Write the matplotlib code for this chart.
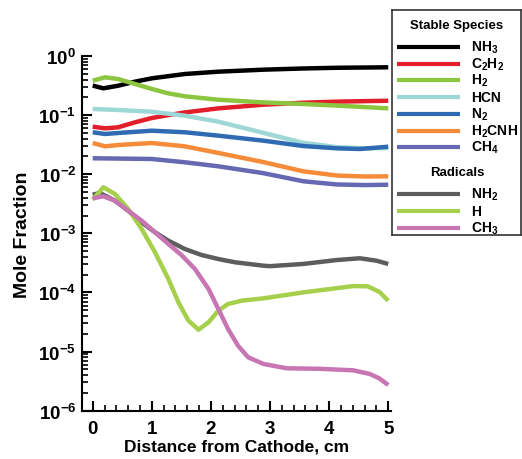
import matplotlib
matplotlib.use("Agg")
import matplotlib.pyplot as plt
from matplotlib.ticker import LogLocator, MultipleLocator, NullFormatter

plt.rcParams['font.family'] = ['Liberation Sans', 'DejaVu Sans']
plt.rcParams['font.weight'] = 'bold'
plt.rcParams['mathtext.default'] = 'regular'
plt.rcParams['axes.unicode_minus'] = False

# stable species
nh3_x = [0, 0.18, 0.43, 0.716, 1.0, 1.56, 2.125, 2.89, 3.56, 4.13, 5.0]
nh3_y = [0.316, 0.284, 0.314, 0.368, 0.419, 0.496, 0.543, 0.587, 0.615, 0.632, 0.644]

c2h2_x = [0, 0.21, 0.43, 0.716, 1.0, 1.28, 1.56, 2.125, 2.89, 3.56, 4.13, 5.0]
c2h2_y = [0.0637, 0.0597, 0.0621, 0.0755, 0.0893, 0.100, 0.111, 0.130, 0.150, 0.162, 0.169, 0.175]

h2_x = [0, 0.21, 0.43, 0.716, 1.0, 1.28, 1.56, 2.125, 2.89, 3.56, 4.13, 5.0]
h2_y = [0.382, 0.436, 0.408, 0.336, 0.277, 0.233, 0.208, 0.182, 0.164, 0.154, 0.145, 0.130]

hcn_x = [0, 0.43, 1.0, 1.56, 2.125, 2.89, 3.56, 4.13, 4.6, 5.0]
hcn_y = [0.127, 0.122, 0.114, 0.0977, 0.0774, 0.0500, 0.0340, 0.0287, 0.0274, 0.0277]

n2_x = [0, 0.21, 0.43, 1.0, 1.56, 2.125, 2.89, 3.56, 4.13, 4.52, 5.0]
n2_y = [0.0512, 0.0479, 0.0498, 0.0545, 0.0512, 0.0449, 0.0369, 0.0300, 0.0274, 0.0267, 0.0292]

h2cnh_x = [0, 0.21, 0.43, 1.0, 1.56, 2.125, 2.89, 3.56, 4.13, 4.6, 5.0]
h2cnh_y = [0.0337, 0.0296, 0.0312, 0.0337, 0.0296, 0.0229, 0.0160, 0.0112, 0.00950, 0.00915, 0.00920]

ch4_x = [0, 1.0, 1.56, 2.125, 2.89, 3.56, 4.13, 4.6, 5.0]
ch4_y = [0.0186, 0.0181, 0.0159, 0.0136, 0.0104, 0.0076, 0.00670, 0.00655, 0.00664]

# radicals
nh2_x = [0, 0.12, 0.377, 0.60, 0.83, 1.054, 1.28, 1.56, 1.84, 2.125, 2.41, 2.89,
         3.0, 3.56, 4.13, 4.52, 4.8, 5.0]
nh2_y = [0.0045, 0.00481, 0.00356, 0.00241, 0.00153, 0.00104, 0.00075, 0.000542, 0.00043,
         0.000367, 0.000323, 0.000283, 0.000278, 0.000303, 0.000353, 0.000378, 0.000344, 0.000303]

h_x = [0, 0.18, 0.377, 0.60, 0.83, 1.054, 1.28, 1.45, 1.62, 1.79, 1.96, 2.125, 2.29, 2.52,
       2.89, 3.56, 4.41, 4.65, 4.85, 5.0]
h_y = [0.00371, 0.0060, 0.00462, 0.00258, 0.00118, 0.000476, 0.000169, 6.79e-5, 3.33e-5,
       2.34e-5, 3.12e-5, 4.9e-5, 6.37e-5, 7.24e-5, 7.94e-5, 1.0e-4, 1.28e-4, 1.27e-4, 1.02e-4, 7.24e-5]

ch3_x = [0, 0.18, 0.377, 0.60, 0.83, 1.054, 1.28, 1.50, 1.73, 1.96, 2.125, 2.29, 2.46,
         2.63, 2.89, 3.28, 3.84, 4.41, 4.69, 4.85, 5.0]
ch3_y = [0.00391, 0.00423, 0.00356, 0.00241, 0.00163, 0.00104, 0.000659, 0.00043, 0.000249,
         0.000114, 5.24e-5, 2.4e-5, 1.25e-5, 7.98e-6, 6.15e-6, 5.2e-6, 5.1e-6, 4.8e-6,
         4.16e-6, 3.5e-6, 2.71e-6]

stable = [
    ("NH$_3$", nh3_x, nh3_y, "#000000"),
    ("C$_2$H$_2$", c2h2_x, c2h2_y, "#e31e2b"),
    ("H$_2$", h2_x, h2_y, "#8cc641"),
    ("HCN", hcn_x, hcn_y, "#9dd8d6"),
    ("N$_2$", n2_x, n2_y, "#2f6bb3"),
    ("H$_2$CNH", h2cnh_x, h2cnh_y, "#f68b3a"),
    ("CH$_4$", ch4_x, ch4_y, "#6768b2"),
]
radicals = [
    ("NH$_2$", nh2_x, nh2_y, "#5c5e5e"),
    ("H", h_x, h_y, "#a6d04b"),
    ("CH$_3$", ch3_x, ch3_y, "#c775b3"),
]

W, H = 522, 460
fig = plt.figure(figsize=(W / 100, H / 100), dpi=100)
ax = fig.add_axes([81.7 / W, 1 - 411.6 / H, 309.5 / W, 354.6 / H])

for name, xs, ys, col in stable + radicals:
    ax.plot(xs, ys, color=col, lw=3.2, solid_capstyle='butt', solid_joinstyle='round')

ax.set_yscale('log')
ax.set_ylim(1e-6, 1)
ax.set_xlim(-0.186, 5.05)
ax.xaxis.set_major_locator(MultipleLocator(1))
ax.xaxis.set_minor_locator(MultipleLocator(0.2))
ax.yaxis.set_major_locator(LogLocator(base=10, numticks=10))
ax.yaxis.set_minor_locator(LogLocator(base=10, subs=range(2, 10), numticks=10))
ax.yaxis.set_minor_formatter(NullFormatter())

for s in ['top', 'right']:
    ax.spines[s].set_visible(False)
for s in ['left', 'bottom']:
    ax.spines[s].set_linewidth(1.5)
ax.tick_params(which='major', direction='in', length=7, width=1.5, labelsize=13.5)
ax.tick_params(which='minor', direction='in', length=4, width=1.2)
ax.tick_params(axis='y', which='major', pad=4)
ax.tick_params(axis='x', which='major', pad=7)

ax.set_xlabel("Distance from Cathode, cm", fontsize=12.5, fontweight='bold', labelpad=1)
ax.set_ylabel("Mole Fraction", fontsize=14, fontweight='bold', labelpad=5)

# legend box drawn in its own axes, in pixel units
lax = fig.add_axes([391.7 / W, 1 - 236 / H, 129.5 / W, 225.3 / H])
lax.set_xlim(391.7, 521.2)
lax.set_ylim(236, 10.7)
lax.set_xticks([])
lax.set_yticks([])
for s in lax.spines.values():
    s.set_linewidth(1.2)
    s.set_color('#333333')

lax.text(457, 26, "Stable Species", ha='center', va='center', fontsize=9.5, fontweight='bold')
ys_st = [48, 64.5, 81, 98, 115, 132, 148]
for (name, xs, ys, col), yy in zip(stable, ys_st):
    lax.plot([397, 460], [yy, yy], color=col, lw=3, solid_capstyle='butt')
    lax.text(471, yy, name, ha='left', va='center', fontsize=10, fontweight='bold')

lax.text(457.5, 173, "Radicals", ha='center', va='center', fontsize=9.5, fontweight='bold')
ys_rad = [195, 212, 229]
for (name, xs, ys, col), yy in zip(radicals, ys_rad):
    lax.plot([397, 460], [yy, yy], color=col, lw=3, solid_capstyle='butt')
    lax.text(471, yy, name, ha='left', va='center', fontsize=10, fontweight='bold')

fig.savefig("out.png", dpi=100)
